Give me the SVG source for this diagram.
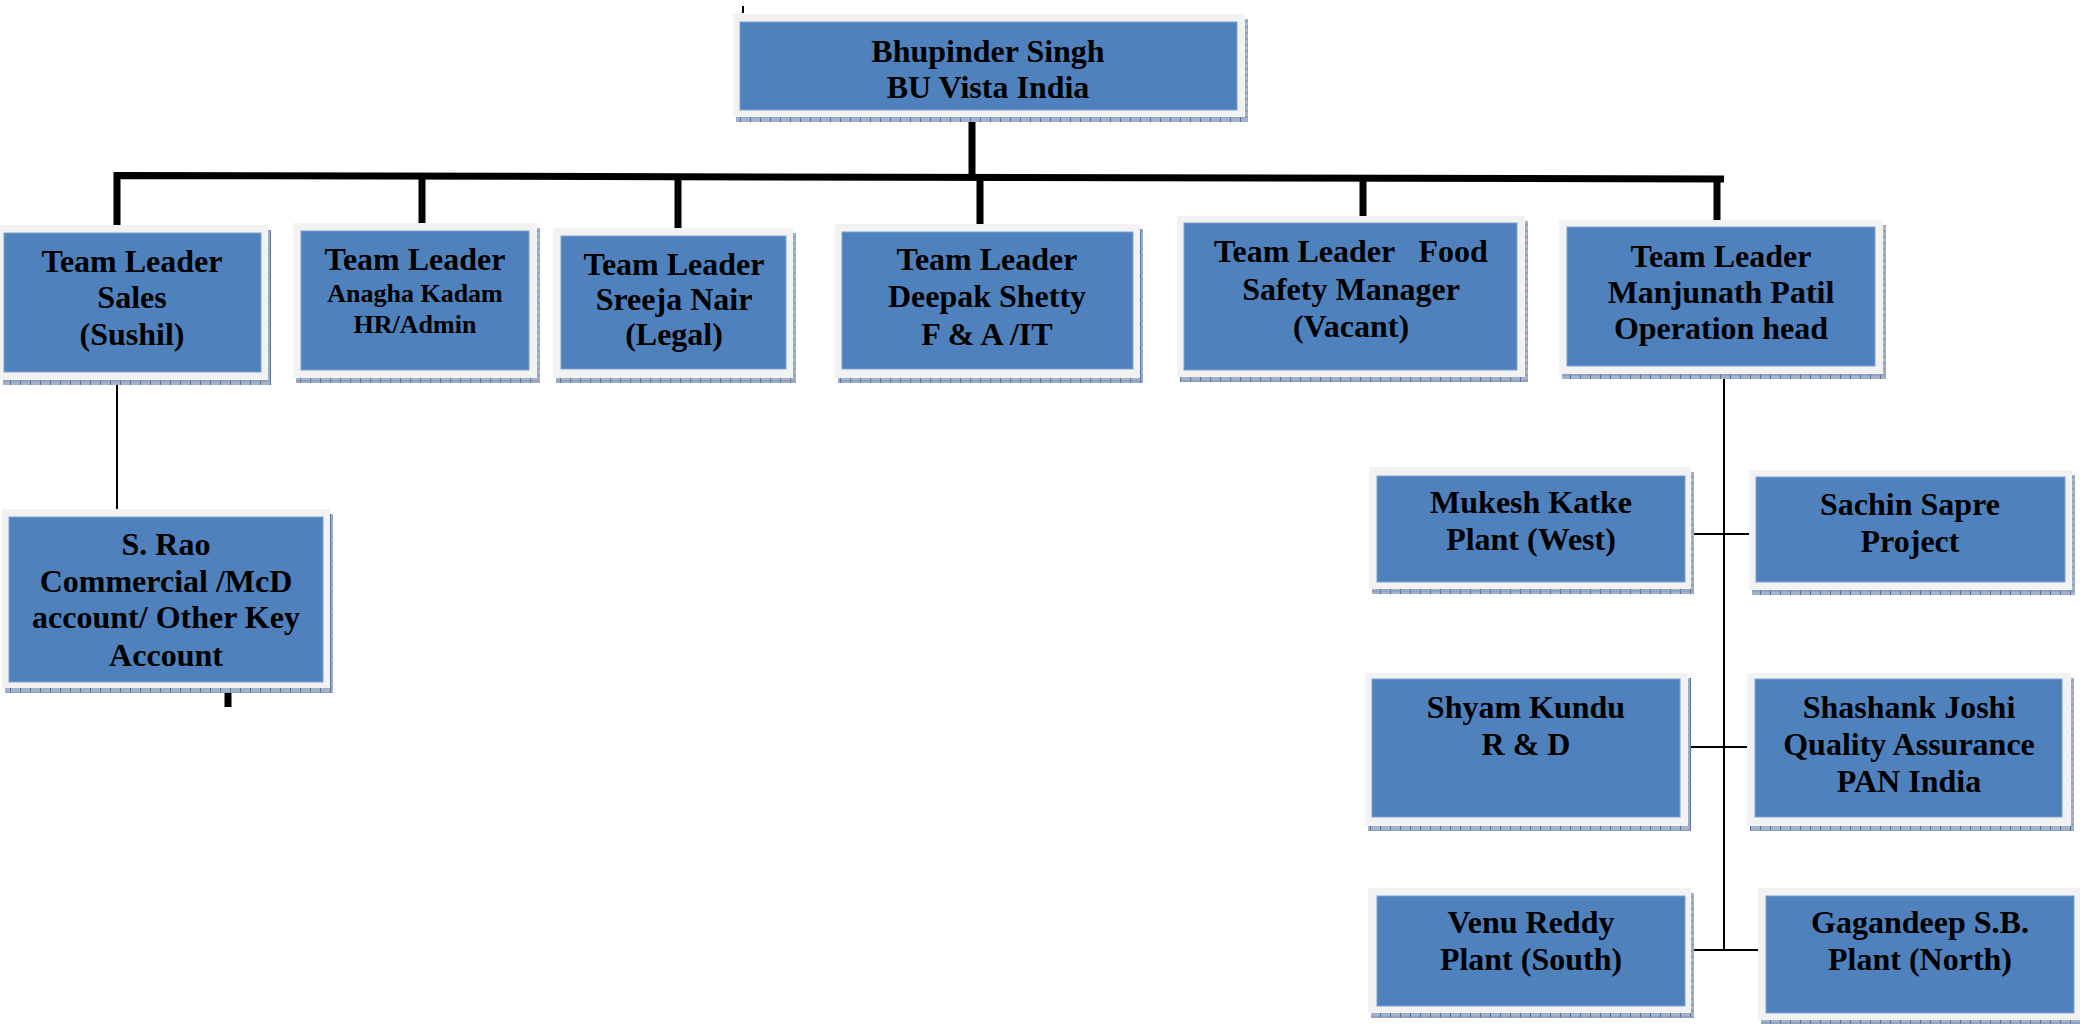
<svg xmlns="http://www.w3.org/2000/svg" width="2080" height="1024" viewBox="0 0 2080 1024">
<style>
.sh{fill:url(#hatch)}
.fr{fill:#f2f2f2}
.bx{fill:#4f81bd;stroke:#7da2d2;stroke-width:1}
text{font-family:"Liberation Serif","Times New Roman",serif;font-weight:bold;font-size:32px;fill:#000;text-anchor:middle}
.sm{font-size:26px}
.thick{stroke:#000;stroke-width:7;fill:none}
.thin{stroke:#000;stroke-width:2;fill:none}
</style>
<defs>
<pattern id="hatch" patternUnits="userSpaceOnUse" width="10" height="6">
<rect width="10" height="6" fill="#a3b2c8"/>
<line x1="0.5" y1="0" x2="0.5" y2="6" stroke="#56709a" stroke-width="1"/>
<line x1="0" y1="3" x2="10" y2="3" stroke="#7f92b0" stroke-width="1"/>
</pattern>
</defs>
<rect width="2080" height="1024" fill="#fff"/>

<g id="connectors">
<line class="thin" x1="743" y1="6" x2="743" y2="13" stroke-width="1.5"/>
<line class="thick" x1="972" y1="117" x2="972" y2="176"/>
<path class="thick" d="M117,228 V175.5 L1724,179"/>
<line class="thick" x1="422" y1="176" x2="422" y2="227"/>
<line class="thick" x1="678" y1="176" x2="678" y2="228"/>
<line class="thick" x1="980" y1="177" x2="980" y2="227"/>
<line class="thick" x1="1363" y1="178" x2="1363" y2="216"/>
<line class="thick" x1="1717" y1="179" x2="1717" y2="220"/>
<line class="thin" x1="117" y1="384" x2="117" y2="509"/>
<line class="thick" x1="228" y1="690" x2="228" y2="707"/>
<line class="thin" x1="1724" y1="378" x2="1724" y2="951"/>
<line class="thin" x1="1688" y1="534" x2="1754" y2="534"/>
<line class="thin" x1="1688" y1="747" x2="1754" y2="747"/>
<line class="thin" x1="1688" y1="950" x2="1763" y2="950"/>
</g>

<g id="n-bhupinder">
<rect class="sh" x="736" y="19" width="512" height="103"/>
<rect class="fr" x="733" y="14" width="512" height="103"/>
<rect class="bx" x="740" y="22" width="497" height="88"/>
<text x="988" y="62">Bhupinder Singh</text>
<text x="988" y="98">BU Vista India</text>
</g>

<g id="n-sales">
<rect class="sh" x="3" y="230" width="268" height="155"/>
<rect class="fr" x="0" y="225" width="268" height="155"/>
<rect class="bx" x="4" y="233" width="257" height="139"/>
<text x="132" y="272">Team Leader</text>
<text x="132" y="308">Sales</text>
<text x="132" y="345">(Sushil)</text>
</g>

<g id="n-anagha">
<rect class="sh" x="296" y="228" width="244" height="155"/>
<rect class="fr" x="293" y="223" width="244" height="155"/>
<rect class="bx" x="301" y="231" width="228" height="139"/>
<text x="415" y="270">Team Leader</text>
<text class="sm" x="415" y="302">Anagha Kadam</text>
<text class="sm" x="415" y="333">HR/Admin</text>
</g>

<g id="n-sreeja">
<rect class="sh" x="556" y="233" width="240" height="150"/>
<rect class="fr" x="553" y="228" width="240" height="150"/>
<rect class="bx" x="561" y="236" width="225" height="133"/>
<text x="674" y="275">Team Leader</text>
<text x="674" y="310">Sreeja Nair</text>
<text x="674" y="345">(Legal)</text>
</g>

<g id="n-deepak">
<rect class="sh" x="838" y="229" width="305" height="154"/>
<rect class="fr" x="835" y="224" width="305" height="154"/>
<rect class="bx" x="842" y="232" width="291" height="137"/>
<text x="987" y="270">Team Leader</text>
<text x="987" y="307">Deepak Shetty</text>
<text x="987" y="345">F &amp; A /IT</text>
</g>

<g id="n-food">
<rect class="sh" x="1180" y="221" width="348" height="161"/>
<rect class="fr" x="1177" y="216" width="348" height="161"/>
<rect class="bx" x="1184" y="223" width="333" height="147"/>
<text x="1351" y="262" xml:space="preserve">Team Leader   Food</text>
<text x="1351" y="300">Safety Manager</text>
<text x="1351" y="337">(Vacant)</text>
</g>

<g id="n-manjunath">
<rect class="sh" x="1562" y="225" width="324" height="154"/>
<rect class="fr" x="1559" y="220" width="324" height="154"/>
<rect class="bx" x="1567" y="227" width="308" height="139"/>
<text x="1721" y="267">Team Leader</text>
<text x="1721" y="303">Manjunath Patil</text>
<text x="1721" y="339">Operation head</text>
</g>

<g id="n-srao">
<rect class="sh" x="5" y="514" width="328" height="179"/>
<rect class="fr" x="2" y="509" width="328" height="179"/>
<rect class="bx" x="9" y="517" width="314" height="165"/>
<text x="166" y="555">S. Rao</text>
<text x="166" y="592">Commercial /McD</text>
<text x="166" y="628">account/ Other Key</text>
<text x="166" y="666">Account</text>
</g>

<g id="n-mukesh">
<rect class="sh" x="1372" y="472" width="322" height="122"/>
<rect class="fr" x="1369" y="467" width="322" height="122"/>
<rect class="bx" x="1377" y="476" width="308" height="106"/>
<text x="1531" y="513">Mukesh Katke</text>
<text x="1531" y="550">Plant (West)</text>
</g>

<g id="n-sachin">
<rect class="sh" x="1752" y="475" width="323" height="120"/>
<rect class="fr" x="1749" y="470" width="323" height="120"/>
<rect class="bx" x="1756" y="477" width="309" height="105"/>
<text x="1910" y="515">Sachin Sapre</text>
<text x="1910" y="552">Project</text>
</g>

<g id="n-shyam">
<rect class="sh" x="1368" y="678" width="323" height="153"/>
<rect class="fr" x="1365" y="673" width="323" height="153"/>
<rect class="bx" x="1372" y="679" width="308" height="138"/>
<text x="1526" y="718">Shyam Kundu</text>
<text x="1526" y="755">R &amp; D</text>
</g>

<g id="n-shashank">
<rect class="sh" x="1750" y="678" width="324" height="153"/>
<rect class="fr" x="1747" y="673" width="324" height="153"/>
<rect class="bx" x="1755" y="679" width="307" height="138"/>
<text x="1909" y="718">Shashank Joshi</text>
<text x="1909" y="755">Quality Assurance</text>
<text x="1909" y="792">PAN India</text>
</g>

<g id="n-venu">
<rect class="sh" x="1371" y="893" width="323" height="125"/>
<rect class="fr" x="1368" y="888" width="323" height="125"/>
<rect class="bx" x="1377" y="896" width="308" height="110"/>
<text x="1531" y="933">Venu Reddy</text>
<text x="1531" y="970">Plant (South)</text>
</g>

<g id="n-gagandeep">
<rect class="sh" x="1761" y="893" width="322" height="132"/>
<rect class="fr" x="1758" y="888" width="322" height="132"/>
<rect class="bx" x="1766" y="896" width="308" height="117"/>
<text x="1920" y="933">Gagandeep S.B.</text>
<text x="1920" y="970">Plant (North)</text>
</g>
</svg>
